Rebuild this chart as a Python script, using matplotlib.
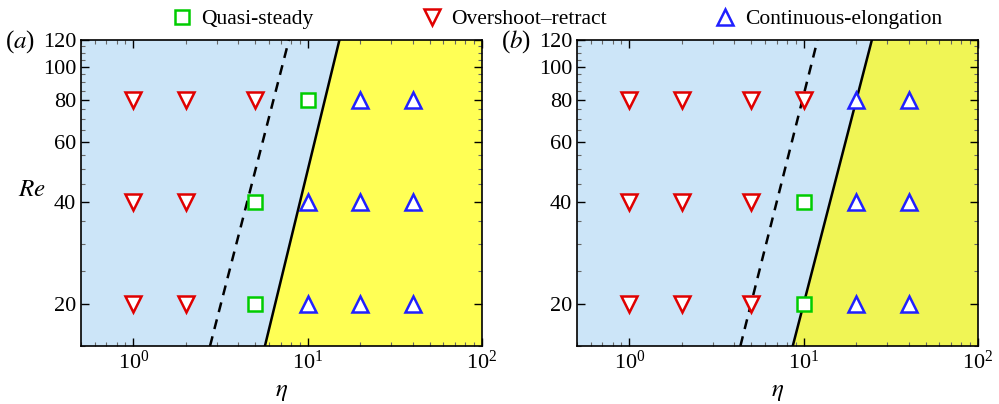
import matplotlib.pyplot as plt
from matplotlib.ticker import FixedLocator, NullFormatter, LogLocator
import numpy as np

plt.rcParams['font.family'] = ['Liberation Serif', 'DejaVu Serif']
plt.rcParams['mathtext.fontset'] = 'stix'

# regime data: (eta, Re)
a_over_eta = [1, 2, 1, 2, 1, 2, 5]
a_over_re = [20, 20, 40, 40, 80, 80, 80]
a_quasi_eta = [5, 5, 10]
a_quasi_re = [20, 40, 80]
a_cont_eta = [10, 20, 40, 10, 20, 40, 20, 40]
a_cont_re = [20, 20, 20, 40, 40, 40, 80, 80]

b_over_eta = [1, 2, 5, 1, 2, 5, 1, 2, 5, 10]
b_over_re = [20, 20, 20, 40, 40, 40, 80, 80, 80, 80]
b_quasi_eta = [10, 10]
b_quasi_re = [20, 40]
b_cont_eta = [20, 40, 20, 40, 20, 40]
b_cont_re = [20, 20, 40, 40, 80, 80]

# boundary lines: eta at Re=15 and Re=120
line_re = [15, 120]
a_solid = [5.68, 15.2]
a_dash = [2.75, 7.8]
b_solid = [8.65, 24.6]
b_dash = [4.33, 12.0]

blue = '#cce5f8'
red = '#e00000'
green = '#00cc00'
navy = '#2020ff'

fig = plt.figure(figsize=(9.99, 4.04), dpi=100)
ax_a = fig.add_axes([81/999, 58/404, 401/999, 306/404])
ax_b = fig.add_axes([577/999, 58/404, 401/999, 306/404])

panels = [
    (ax_a, 'a', '#ffff55', a_solid, a_dash, a_over_eta, a_over_re, a_quasi_eta, a_quasi_re, a_cont_eta, a_cont_re),
    (ax_b, 'b', '#f0f555', b_solid, b_dash, b_over_eta, b_over_re, b_quasi_eta, b_quasi_re, b_cont_eta, b_cont_re),
]

for ax, tag, yel, solid, dash, oe, orr, qe, qr, ce, cr in panels:
    ax.set_xscale('log')
    ax.set_yscale('log')
    ax.set_xlim(0.5, 100)
    ax.set_ylim(15, 120)
    ax.set_facecolor(blue)
    ax.fill([solid[0], solid[1], 100, 100], [line_re[0], line_re[1], 120, 15],
            color=yel, lw=0, zorder=1)
    ax.plot(solid, line_re, color='black', lw=1.8, zorder=2)
    ax.plot(dash, line_re, color='black', lw=1.8, ls=(0, (4, 3)), zorder=2)
    ax.plot(oe, orr, 'v', ms=12, mfc='white', mec=red, mew=1.8, ls='none', zorder=3)
    ax.plot(qe, qr, 's', ms=10.5, mfc='white', mec=green, mew=1.8, ls='none', zorder=3)
    ax.plot(ce, cr, '^', ms=12, mfc='white', mec=navy, mew=1.8, ls='none', zorder=3)

    ax.yaxis.set_major_locator(FixedLocator([20, 40, 60, 80, 100, 120]))
    ax.yaxis.set_minor_locator(FixedLocator(list(range(15, 120, 5))))
    ax.yaxis.set_major_formatter(plt.FixedFormatter(['20', '40', '60', '80', '100', '120']))
    ax.yaxis.set_minor_formatter(NullFormatter())
    ax.xaxis.set_major_locator(LogLocator(base=10))
    ax.xaxis.set_minor_locator(LogLocator(base=10, subs=np.arange(2, 10)))
    ax.tick_params(which='both', direction='in', top=True, right=True, labelsize=16)
    ax.tick_params(which='major', length=6, width=1)
    ax.tick_params(which='minor', length=3, width=0.8, color='#666666')
    for s in ax.spines.values():
        s.set_linewidth(1.2)
    ax.set_xlabel(r'$\eta$', fontsize=18, labelpad=5)
    ax.text(-0.19, 0.995, r'($\mathit{%s}$)' % tag, transform=ax.transAxes,
            fontsize=18, va='center', ha='left')

ax_a.set_ylabel(r'$Re$', fontsize=18, rotation=0, va='center', ha='center')
ax_a.yaxis.set_label_coords(-0.122, 0.51)

h1, = ax_a.plot([], [], 's', ms=10.5, mfc='white', mec=green, mew=1.8)
h2, = ax_a.plot([], [], 'v', ms=12, mfc='white', mec=red, mew=1.8)
h3, = ax_a.plot([], [], '^', ms=12, mfc='white', mec=navy, mew=1.8)
fig.legend([h1, h2, h3], ['Quasi-steady', 'Overshoot\u2013retract', 'Continuous-elongation'],
           loc='upper center', bbox_to_anchor=(0.557, 1.025), ncol=3, frameon=False,
           fontsize=15.5, handlelength=1.0, handletextpad=0.4, columnspacing=5.0)

fig.savefig('out.png', dpi=100)
